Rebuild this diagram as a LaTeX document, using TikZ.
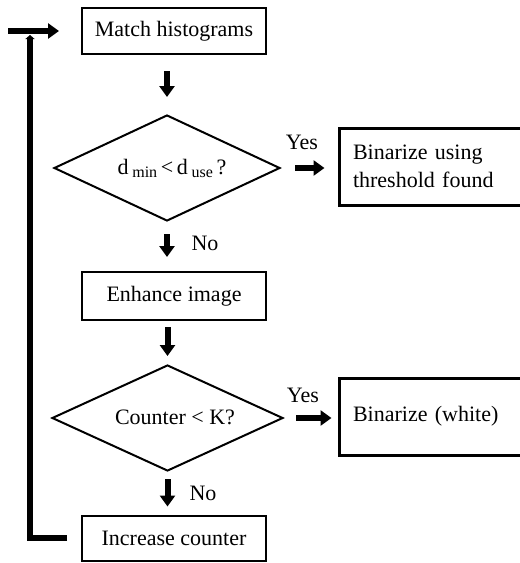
\documentclass[tikz,border=0pt]{standalone}
\usepackage{fontspec}
\setmainfont{Liberation Serif}
\usetikzlibrary{shapes.geometric,arrows.meta}
\tikzset{
  txt/.style={font=\fontsize{22}{28}\selectfont},
  procbox/.style={draw, line width=2pt, rectangle, minimum width=184pt, inner sep=0pt, txt},
  outbox/.style={draw, line width=3pt, rectangle, minimum width=191pt, minimum height=77pt,
    text width=163pt, inner xsep=14pt, inner ysep=0pt, align=left, txt},
  decision/.style={draw, line width=2pt, diamond, inner sep=0pt, txt},
  arr/.style={line width=6pt, -{Triangle[length=11pt,width=15pt]}},
  loopline/.style={line width=6pt},
  lbl/.style={txt, inner sep=0pt}
}
\newcommand{\subtxt}[1]{\raisebox{-3pt}{\fontsize{16}{16}\selectfont #1}}
\begin{document}
\begin{tikzpicture}[x=1pt,y=-1pt]
\useasboundingbox (0,0) rectangle (520,563);
\node[procbox, minimum height=46pt] (m) at (174,31) {Match histograms};
\node[decision, minimum width=226pt, minimum height=106pt] (d1) at (167,168) {};
\node[lbl] (d1t) at (172,168) {d\,\subtxt{min}\,<\,d\,\subtxt{use}\,?};
\node[outbox] (b1) at (434.5,166.5) {Binarize using\\threshold found};
\node[procbox, minimum height=48pt] (e) at (174,296) {Enhance image};
\node[decision, minimum width=231pt, minimum height=106pt] (d2) at (167.5,418) {};
\node[lbl] (d2t) at (175,417) {Counter < K?};
\node[outbox] (b2) at (434.5,416.5) {Binarize (white)};
\node[procbox, minimum height=45pt] (i) at (174,538) {Increase counter};

\node[lbl] (y1) at (302,142) {Yes};
\node[lbl] (y2) at (303,395) {Yes};
\node[lbl] (n1) at (205,243) {No};
\node[lbl] (n2) at (203,493) {No};

\draw[arr, shorten <=16pt, shorten >=17pt] (d1.north |- m.south) -- (d1.north);
\draw[arr, shorten <=12pt, shorten >=14pt] (d1.south) -- (d1.south |- e.north);
\draw[arr, shorten <=6pt, shorten >=8pt] (d2.north |- e.south) -- (d2.north);
\draw[arr, shorten <=7pt, shorten >=8pt] (d2.south) -- (d2.south |- i.north);
\draw[arr, shorten <=14pt, shorten >=13pt] (d1.east) -- (d1.east -| b1.west);
\draw[arr, shorten <=12pt, shorten >=6pt] (d2.east) -- (d2.east -| b2.west);

\coordinate (lc) at (30,538);
\coordinate (tc) at (30,35);
\coordinate (ls) at (8,31);
\draw[loopline, shorten <=14pt, -{Triangle[length=4pt,width=9pt]}] (i.west) -- (lc) -- (tc);
\draw[loopline, shorten >=22pt, -{Triangle[length=11pt,width=15pt]}] (ls) -- (m.west);
\end{tikzpicture}
\end{document}
